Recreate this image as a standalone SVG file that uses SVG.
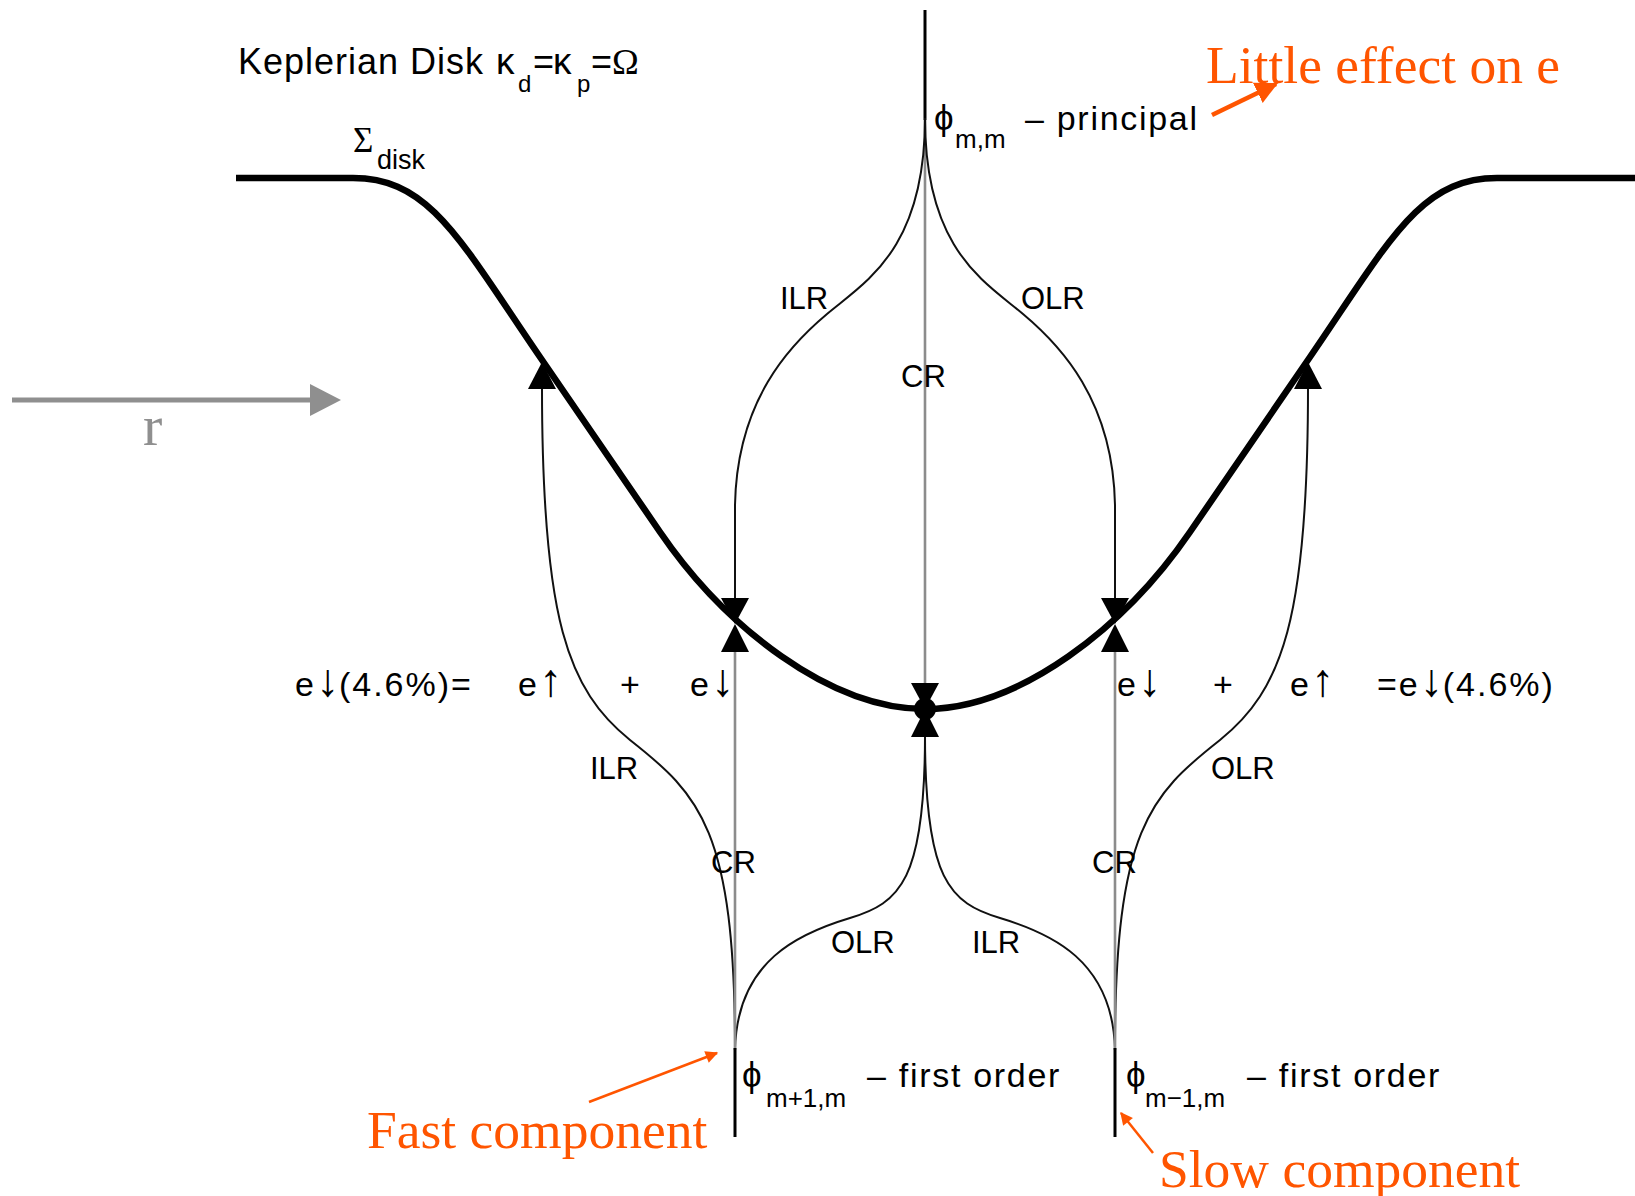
<svg xmlns="http://www.w3.org/2000/svg" width="1635" height="1196" viewBox="0 0 1635 1196">
<style>
.curve{fill:none;stroke:#111;stroke-width:2}
.cr{fill:none;stroke:#8c8c8c;stroke-width:2.6}
.stem{fill:none;stroke:#000;stroke-width:3}
.disk{fill:none;stroke:#000;stroke-width:6.5;stroke-linejoin:round}
.tri{fill:#000}
.lbl{font-family:"Liberation Sans",Arial,sans-serif;font-size:31px;fill:#000}
.eq{font-family:"Liberation Sans",Arial,sans-serif;font-size:34px;fill:#000;letter-spacing:2px}
.arr{font-size:46px;letter-spacing:0}
.phi{font-family:"Liberation Sans",Arial,sans-serif;font-size:34px;fill:#000;letter-spacing:1.7px}
.gr{font-family:"Liberation Sans","DejaVu Sans",sans-serif;font-size:35px;fill:#000}
.sub{font-family:"Liberation Sans",Arial,sans-serif;font-size:26px;fill:#000}
.ser{font-family:"Liberation Serif","Times New Roman",serif;fill:#000}
.orange{font-family:"Liberation Serif","Times New Roman",serif;font-size:53.5px;fill:#FF5500}
.oarrow{fill:none;stroke:#FF5500}
</style>
<defs>
<marker id="ohead" viewBox="0 0 10 10" refX="9" refY="5" markerWidth="5" markerHeight="5" orient="auto"><path d="M0,0 L10,5 L0,10 Z" fill="#FF5500"/></marker>
<marker id="oheadS" viewBox="0 0 10 10" refX="9" refY="5" markerWidth="6" markerHeight="5" orient="auto"><path d="M0,0 L10,5 L0,10 Z" fill="#FF5500"/></marker>
</defs>

<g id="r-axis">
<line x1="12" y1="400" x2="312" y2="400" stroke="#8f8f8f" stroke-width="5"/>
<polygon points="310,384 341,400 310,416" fill="#8f8f8f"/>
<text x="143" y="445" class="ser" font-size="58" style="fill:#8f8f8f">r</text>
</g>

<g id="title">
<text class="eq" x="238" y="74" style="font-size:36px;letter-spacing:1px">Keplerian Disk</text>
<text class="gr" x="496" y="74" style="font-size:37px">κ</text>
<text class="sub" x="518" y="92" style="font-size:24px">d</text>
<text class="eq" x="533" y="74" style="font-size:36px;letter-spacing:0">=</text>
<text class="gr" x="553" y="74" style="font-size:37px">κ</text>
<text class="sub" x="577" y="92" style="font-size:24px">p</text>
<text class="eq" x="591" y="74" style="font-size:36px;letter-spacing:0">=</text>
<text class="ser" x="612" y="74" font-size="36">Ω</text>
</g>

<g id="sigma-disk">
<text class="ser" x="353" y="152" font-size="35">Σ</text>
<text class="sub" x="377" y="169" style="font-size:27px">disk</text>
</g>

<g id="disk-profile">
<path class="disk" d="M236,178 L353,178 C430,178 460,240 540,357 L660,532 C725,627 830,709 925,709 C1020,709 1125,627 1190,532 L1310,357 C1390,240 1420,178 1497,178 L1635,178"/>
</g>

<g id="connectors">
<path class="stem" d="M925,10 L925,120"/>
<path class="cr" d="M925,118 L925,684"/>
<path class="curve" d="M925,118 C925,250 865,282 827,314 C790,345 737,400 735,505 L735,599"/>
<path class="curve" d="M925,118 C925,250 985,282 1023,314 C1060,345 1113,400 1115,505 L1115,599"/>
<path class="curve" d="M542,388 C542,620 568,690 630,740 C700,795 735,830 735,1050"/>
<path class="curve" d="M1308,388 C1308,620 1282,690 1220,740 C1150,795 1115,830 1115,1050"/>
<path class="curve" d="M925,736 C925,880 900,903 850,918 C800,933 737,960 735,1050"/>
<path class="curve" d="M925,736 C925,880 950,903 1000,918 C1050,933 1113,960 1115,1050"/>
<path class="cr" d="M735,651 L735,1050"/>
<path class="cr" d="M1115,651 L1115,1050"/>
<path class="stem" d="M735,1048 L735,1137"/>
<path class="stem" d="M1115,1048 L1115,1137"/>
</g>

<g id="arrowheads">
<polygon class="tri" points="542,362 528,389 556,389"/>
<polygon class="tri" points="1308,362 1294,389 1322,389"/>
<polygon class="tri" points="721,598 749,598 735,624"/>
<polygon class="tri" points="735,624 749,652 721,652"/>
<polygon class="tri" points="1101,598 1129,598 1115,624"/>
<polygon class="tri" points="1115,624 1129,652 1101,652"/>
<polygon class="tri" points="911,683 939,683 925,709"/>
<polygon class="tri" points="925,709 939,737 911,737"/>
<circle class="tri" cx="925" cy="709" r="11"/>
</g>

<g id="resonance-labels">
<text class="lbl" x="780" y="309">ILR</text>
<text class="lbl" x="1021" y="309">OLR</text>
<text class="lbl" x="901" y="387">CR</text>
<text class="lbl" x="590" y="779">ILR</text>
<text class="lbl" x="1211" y="779">OLR</text>
<text class="lbl" x="711" y="873">CR</text>
<text class="lbl" x="1092" y="873">CR</text>
<text class="lbl" x="831" y="953">OLR</text>
<text class="lbl" x="972" y="953">ILR</text>
</g>

<g id="phi-principal">
<text class="gr" x="934" y="130">ϕ</text>
<text class="sub" x="955" y="148">m,m</text>
<text class="phi" x="1025" y="130">– principal</text>
</g>
<g id="phi-fast">
<text class="gr" x="742" y="1087">ϕ</text>
<text class="sub" x="766" y="1107">m+1,m</text>
<text class="phi" x="867" y="1087">– first order</text>
</g>
<g id="phi-slow">
<text class="gr" x="1126" y="1087">ϕ</text>
<text class="sub" x="1145" y="1107">m−1,m</text>
<text class="phi" x="1247" y="1087">– first order</text>
</g>

<g id="equations">
<text class="eq" x="295" y="696">e<tspan class="arr">↓</tspan>(4.6%)=</text>
<text class="eq" x="518" y="696">e<tspan class="arr">↑</tspan></text>
<text class="eq" x="620" y="696">+</text>
<text class="eq" x="690" y="696">e<tspan class="arr">↓</tspan></text>
<text class="eq" x="1117" y="696">e<tspan class="arr">↓</tspan></text>
<text class="eq" x="1213" y="696">+</text>
<text class="eq" x="1290" y="696">e<tspan class="arr">↑</tspan></text>
<text class="eq" x="1377" y="696">=e<tspan class="arr">↓</tspan>(4.6%)</text>
</g>

<g id="annotations">
<text class="orange" x="1206" y="83">Little effect on e</text>
<path class="oarrow" stroke-width="4.5" d="M1212,115 L1276,84" marker-end="url(#ohead)"/>
<text class="orange" x="367" y="1148">Fast component</text>
<path class="oarrow" stroke-width="2.5" d="M589,1102 L717,1053" marker-end="url(#oheadS)"/>
<text class="orange" x="1159" y="1187">Slow component</text>
<path class="oarrow" stroke-width="2.5" d="M1153,1153 L1121,1113" marker-end="url(#oheadS)"/>
</g>
</svg>
